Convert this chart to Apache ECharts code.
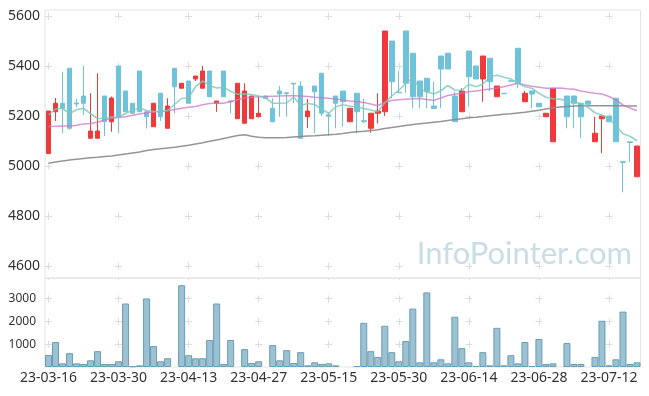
<!DOCTYPE html>
<html><head><meta charset="utf-8">
<script src="https://cdn.jsdelivr.net/npm/echarts@6/dist/echarts.min.js"></script>
<style>html,body{margin:0;padding:0;background:#fff}#c{width:649px;height:396px}</style>
</head><body><div id="c"></div>
<script>
const dates = ["23-03-16","23-03-17","23-03-20","23-03-21","23-03-22","23-03-23","23-03-24","23-03-27","23-03-28","23-03-29",
"23-03-30","23-03-31","23-04-03","23-04-04","23-04-05","23-04-06","23-04-07","23-04-10","23-04-11","23-04-12",
"23-04-13","23-04-14","23-04-17","23-04-18","23-04-19","23-04-20","23-04-21","23-04-24","23-04-25","23-04-26",
"23-04-27","23-04-28","23-05-02","23-05-03","23-05-04","23-05-08","23-05-09","23-05-10","23-05-11","23-05-12",
"23-05-15","23-05-16","23-05-17","23-05-18","23-05-19","23-05-22","23-05-23","23-05-24","23-05-25","23-05-26",
"23-05-30","23-05-31","23-06-01","23-06-02","23-06-05","23-06-07","23-06-08","23-06-09","23-06-12","23-06-13",
"23-06-14","23-06-15","23-06-16","23-06-19","23-06-20","23-06-21","23-06-22","23-06-23","23-06-26","23-06-27",
"23-06-28","23-06-29","23-06-30","23-07-03","23-07-04","23-07-05","23-07-06","23-07-07","23-07-10","23-07-11",
"23-07-12","23-07-13","23-07-14","23-07-17","23-07-18"];

const openP = [5050,5217,5251,5391,5252,5280,5111,5111,5280,5177,
5400,5300,5251,5380,5217,5157,5291,5151,5391,5311,
5340,5348,5311,5380,5251,5380,5260,5189,5171,5189,
5197,5280,5231,5300,5293,5331,5320,5197,5320,5371,
5205,5280,5300,5177,5291,5181,5151,5211,5217,5500,
5295,5540,5451,5340,5351,5240,5440,5451,5280,5217,
5460,5400,5348,5431,5277,5291,5341,5471,5257,5300,
5251,5197,5097,null,5280,5280,5251,5260,5097,5189,
5200,5271,5017,5097,4957];
const closeP = [5220,5251,5231,5151,5248,5251,5140,5140,5177,5272,
5197,5217,5211,5217,5197,5251,5197,5240,5317,5331,
5251,5360,5380,5277,5260,5277,5256,5331,5300,5280,
5211,5270,5177,5288,5290,5328,5111,5220,5297,5211,
5200,5251,5257,5231,5217,5178,5211,5220,5540,5337,
5293,5331,5277,5277,5297,5230,5388,5388,5177,5300,
5357,5348,5440,5337,5320,5289,5339,5331,5291,5288,
5237,5211,5311,null,5197,5251,5197,5247,5131,5200,
5177,5097,5014,5094,5080];
const lowP = [5050,5180,5131,5145,5235,5204,5111,5111,5120,5137,
5131,5217,5211,5217,5150,5157,5180,5151,5211,5311,
5251,5340,5311,5277,5217,5277,5211,5189,5171,5189,
5197,5270,5177,5197,5197,5251,5111,5151,5131,5200,
5120,5151,5157,5177,5131,5171,5133,5171,5200,5271,
5293,5293,5231,5231,5231,5230,5231,5388,5177,5217,
5237,5348,5257,5300,5277,5289,5339,5311,5257,5231,
5237,5197,5097,null,5151,5151,5111,5247,5097,5051,
5177,5097,4895,5017,4957];
const highP = [5220,5272,5377,5391,5270,5400,5291,5371,5280,5278,
5400,5300,5251,5380,5217,5251,5291,5271,5391,5331,
5340,5360,5400,5380,5260,5380,5260,5331,5331,5280,
5277,5280,5271,5320,5293,5331,5340,5268,5320,5371,
5211,5280,5300,5231,5291,5268,5211,5291,5540,5500,
5380,5540,5451,5340,5351,5337,5440,5451,5297,5311,
5460,5400,5440,5431,5320,5291,5341,5471,5300,5300,
5251,5211,5311,null,5280,5280,5251,5260,5197,5200,
5200,5271,5017,5097,5080];
const volume = [531,1094,160,605,160,131,294,694,131,131,
250,2782,30,72,3004,916,250,383,null,3582,
516,383,383,1183,2782,131,1183,null,783,175,
250,null,960,294,738,175,650,72,205,131,
160,72,null,null,42,1938,694,442,1805,650,
250,1138,2560,205,3270,205,338,160,2204,827,
205,42,650,72,1716,72,516,160,1094,42,
1227,131,160,null,1050,131,131,null,442,2027,
72,338,2427,131,205];
const ma5 = [5204,5228,5231,5209,5225,5231,5209,5190,5190,5196,
5196,5210,5224,5232,5222,5218,5219,5222,5246,5271,
5272,5318,5340,5322,5312,5314,5299,5287,5288,5286,
5280,5272,5251,5251,5252,5276,5242,5250,5246,5227,
5211,5237,5245,5240,5235,5230,5224,5217,5253,5280,
5303,5330,5355,5308,5297,5288,5301,5322,5304,5303,
5327,5317,5327,5357,5363,5355,5348,5331,5317,5311,
5291,5275,5269,5267,5260,5255,5250,5235,5213,5203,
5189,5161,5129,5119,5101];
const ma20 = [5158,5159,5160,5160,5163,5168,5170,5175,5184,5191,
5194,5197,5203,5208,5213,5216,5218,5221,5226,5231,
5235,5238,5245,5250,5252,5251,5258,5265,5273,5275,
5277,5278,5279,5280,5281,5281,5280,5278,5275,5273,
5271,5268,5264,5260,5257,5254,5248,5241,5255,5262,
5265,5267,5269,5270,5266,5262,5272,5282,5287,5292,
5297,5300,5304,5308,5312,5317,5324,5331,5324,5319,
5315,5311,5311,5312,5309,5307,5300,5295,5291,5288,
5278,5264,5244,5232,5221];
const ma60 = [5011,5016,5020,5024,5027,5030,5033,5035,5038,5040,
5044,5048,5052,5056,5062,5066,5069,5072,5075,5079,
5083,5088,5093,5099,5104,5110,5116,5122,5125,5119,
5115,5113,5113,5113,5114,5116,5118,5120,5121,5123,
5125,5127,5130,5134,5137,5139,5142,5145,5150,5154,
5158,5162,5166,5169,5172,5175,5178,5182,5186,5189,
5193,5195,5198,5201,5204,5207,5209,5212,5215,5219,
5223,5228,5233,5236,5238,5240,5241,5241,5241,5241,
5241,5241,5241,5240,5240];
const priceTicks = [4600,4800,5000,5200,5400,5600];
const volumeTicks = [1000,2000,3000];
const watermark = "InfoPointer.com";

const candleData = dates.map((d, i) => openP[i] == null ? ['-','-','-','-'] : [openP[i], closeP[i], lowP[i], highP[i]]);
const volData = volume.map(v => v == null ? '-' : v);

const chart = echarts.init(document.getElementById('c'), null, {renderer:'canvas'});
const FONT = 'Noto Sans';
const gridW = 595.5;
const band = gridW / dates.length;
const splitColor = '#dcdcdc';
const plain = v => String(v);
chart.setOption({
  animation: false,
  backgroundColor: '#ffffff',
  grid: [
    {left:45, top:10, width:gridW, height:268, show:true, borderColor:'#e4e4e4', borderWidth:1, backgroundColor:'transparent'},
    {left:45, top:278, width:gridW, height:89, show:true, borderColor:'#e4e4e4', borderWidth:1, backgroundColor:'transparent'}
  ],
  graphic: [{
    type:'text', right:17, top:238, z:-1, silent:true,
    style:{text:watermark, font:'31px Lato', fill:'#c8dde6'}
  }],
  xAxis: [
    {type:'category', gridIndex:0, data:dates, boundaryGap:true,
     axisLine:{show:false}, axisTick:{show:false}, axisLabel:{show:false},
     splitLine:{show:true, interval:9, alignWithLabel:true, lineStyle:{color:splitColor, width:1, type:[7,43], dashOffset:47.5}}},
    {type:'category', gridIndex:1, data:dates, boundaryGap:true,
     axisLine:{show:false}, axisTick:{show:false},
     axisLabel:{interval:9, fontSize:14, color:'#333', margin:4, fontFamily:FONT},
     splitLine:{show:true, interval:9, alignWithLabel:true, lineStyle:{color:splitColor, width:1, type:[7,15.67], dashOffset:5.17}}}
  ],
  yAxis: [
    {type:'value', gridIndex:0, min:4552, max:5624,
     axisLine:{show:false}, axisTick:{show:false, customValues:priceTicks},
     axisLabel:{customValues:priceTicks, formatter:plain, fontSize:14, color:'#333', margin:5, fontFamily:FONT},
     splitLine:{show:true, lineStyle:{color:splitColor, width:1, type:[7, band*10-7], dashOffset:0}}},
    {type:'value', gridIndex:1, min:0, max:3900,
     axisLine:{show:false}, axisTick:{show:false, customValues:volumeTicks},
     axisLabel:{customValues:volumeTicks, formatter:plain, fontSize:12, color:'#333', margin:9, fontFamily:FONT},
     splitLine:{show:true, lineStyle:{color:splitColor, width:1, type:[7, band*10-7], dashOffset:0}}}
  ],
  series: [
    {type:'candlestick', xAxisIndex:0, yAxisIndex:0, data:candleData, barWidth:5,
     itemStyle:{color:'#ee3a3a', color0:'#6ec3da', borderColor:'#ee3a3a', borderColor0:'#6ec3da', borderWidth:1}},
    {type:'line', xAxisIndex:0, yAxisIndex:0, data:ma60, showSymbol:false, symbol:'none',
     lineStyle:{color:'#8a8a8a', width:1.6, opacity:0.9}, z:3},
    {type:'line', xAxisIndex:0, yAxisIndex:0, data:ma20, showSymbol:false, symbol:'none',
     lineStyle:{color:'#c878c8', width:1.6, opacity:0.75}, z:3},
    {type:'line', xAxisIndex:0, yAxisIndex:0, data:ma5, showSymbol:false, symbol:'none',
     lineStyle:{color:'#7cc8b8', width:1.6, opacity:0.8}, z:3},
    {type:'bar', xAxisIndex:1, yAxisIndex:1, data:volData, barWidth:'100%',
     itemStyle:{color:'#9ac2d2', borderColor:'#6c9db3', borderWidth:1}}
  ]
});
</script></body></html>
